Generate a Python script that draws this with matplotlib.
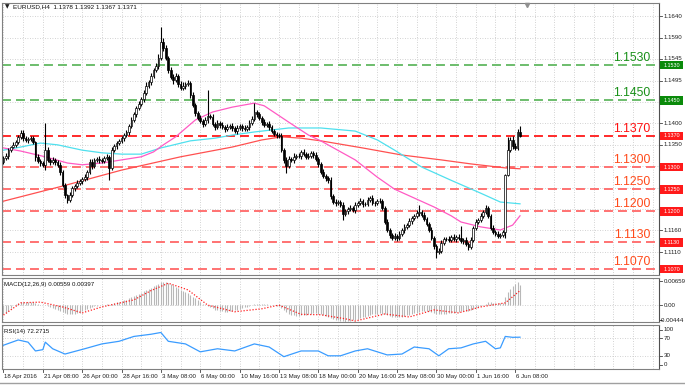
import numpy as np
import matplotlib
matplotlib.use('Agg')
import matplotlib.pyplot as plt
from matplotlib.transforms import blended_transform_factory
from matplotlib.patches import Rectangle
from matplotlib.lines import Line2D

plt.rcParams['font.family'] = ['Liberation Sans', 'DejaVu Sans']

# ---------------- data ----------------
symbol_header = 'EURUSD,H4  1.1378 1.1392 1.1367 1.1371'
macd_header = 'MACD(12,26,9) 0.00559 0.00397'
rsi_header = 'RSI(14) 72.2715'

closes = [
    1.1320, 1.1325, 1.1338, 1.1345, 1.1350, 1.1356, 1.1368, 1.1377, 1.1365, 1.1361,
    1.1363, 1.1365, 1.1356, 1.1323, 1.1314, 1.1309, 1.1305, 1.1338, 1.1316, 1.1311,
    1.1316, 1.1311, 1.1305, 1.1289, 1.1260, 1.1237, 1.1226, 1.1237, 1.1253, 1.1257,
    1.1264, 1.1268, 1.1273, 1.1277, 1.1289, 1.1311, 1.1302, 1.1316, 1.1318, 1.1316,
    1.1314, 1.1320, 1.1323, 1.1298, 1.1338, 1.1347, 1.1354, 1.1359, 1.1365, 1.1372,
    1.1379, 1.1393, 1.1406, 1.1419, 1.1433, 1.1442, 1.1453, 1.1467, 1.1483, 1.1492,
    1.1505, 1.1519, 1.1528, 1.1546, 1.1582, 1.1568, 1.1546, 1.1519, 1.1503, 1.1496,
    1.1505, 1.1487, 1.1478, 1.1483, 1.1487, 1.1489, 1.1462, 1.1440, 1.1422, 1.1411,
    1.1404, 1.1397, 1.1406, 1.1415, 1.1413, 1.1397, 1.1390, 1.1399, 1.1395, 1.1390,
    1.1386, 1.1390, 1.1393, 1.1388, 1.1381, 1.1388, 1.1393, 1.1388, 1.1386, 1.1390,
    1.1399, 1.1408, 1.1424, 1.1419, 1.1411, 1.1402, 1.1395, 1.1397, 1.1390, 1.1381,
    1.1374, 1.1372, 1.1370, 1.1338, 1.1316, 1.1302, 1.1318, 1.1316, 1.1323, 1.1325,
    1.1325, 1.1334, 1.1329, 1.1323, 1.1325, 1.1332, 1.1327, 1.1318, 1.1307, 1.1289,
    1.1280, 1.1275, 1.1270, 1.1235, 1.1221, 1.1219, 1.1221, 1.1214, 1.1194, 1.1201,
    1.1205, 1.1208, 1.1203, 1.1214, 1.1219, 1.1223, 1.1217, 1.1217, 1.1226, 1.1230,
    1.1219, 1.1219, 1.1223, 1.1223, 1.1208, 1.1176, 1.1158, 1.1147, 1.1140, 1.1145,
    1.1140, 1.1149, 1.1158, 1.1165, 1.1169, 1.1178, 1.1185, 1.1190, 1.1196, 1.1199,
    1.1192, 1.1183, 1.1172, 1.1158, 1.1140, 1.1122, 1.1109, 1.1111, 1.1129, 1.1138,
    1.1138, 1.1136, 1.1142, 1.1138, 1.1142, 1.1140, 1.1133, 1.1136, 1.1127, 1.1120,
    1.1136, 1.1163, 1.1176, 1.1181, 1.1190, 1.1199, 1.1208, 1.1190, 1.1163, 1.1154,
    1.1149, 1.1145, 1.1147, 1.1154, 1.1282, 1.1338, 1.1361, 1.1347, 1.1343, 1.1378,
    1.1371,
]

opens = [
    1.1312, 1.1320, 1.1325, 1.1338, 1.1345, 1.1350, 1.1356, 1.1368, 1.1377, 1.1365,
    1.1361, 1.1363, 1.1365, 1.1356, 1.1323, 1.1314, 1.1309, 1.1305, 1.1338, 1.1316,
    1.1311, 1.1316, 1.1311, 1.1305, 1.1289, 1.1260, 1.1237, 1.1226, 1.1237, 1.1253,
    1.1257, 1.1264, 1.1268, 1.1273, 1.1277, 1.1289, 1.1311, 1.1302, 1.1316, 1.1318,
    1.1316, 1.1314, 1.1320, 1.1323, 1.1298, 1.1338, 1.1347, 1.1354, 1.1359, 1.1365,
    1.1372, 1.1379, 1.1393, 1.1406, 1.1419, 1.1433, 1.1442, 1.1453, 1.1467, 1.1483,
    1.1492, 1.1505, 1.1519, 1.1528, 1.1546, 1.1582, 1.1568, 1.1546, 1.1519, 1.1503,
    1.1496, 1.1505, 1.1487, 1.1478, 1.1483, 1.1487, 1.1489, 1.1462, 1.1440, 1.1422,
    1.1411, 1.1404, 1.1397, 1.1406, 1.1415, 1.1413, 1.1397, 1.1390, 1.1399, 1.1395,
    1.1390, 1.1386, 1.1390, 1.1393, 1.1388, 1.1381, 1.1388, 1.1393, 1.1388, 1.1386,
    1.1390, 1.1399, 1.1408, 1.1424, 1.1419, 1.1411, 1.1402, 1.1395, 1.1397, 1.1390,
    1.1381, 1.1374, 1.1372, 1.1370, 1.1338, 1.1316, 1.1302, 1.1318, 1.1316, 1.1323,
    1.1325, 1.1325, 1.1334, 1.1329, 1.1323, 1.1325, 1.1332, 1.1327, 1.1318, 1.1307,
    1.1289, 1.1280, 1.1275, 1.1270, 1.1235, 1.1221, 1.1219, 1.1221, 1.1214, 1.1194,
    1.1201, 1.1205, 1.1208, 1.1203, 1.1214, 1.1219, 1.1223, 1.1217, 1.1217, 1.1226,
    1.1230, 1.1219, 1.1219, 1.1223, 1.1223, 1.1208, 1.1176, 1.1158, 1.1147, 1.1140,
    1.1145, 1.1140, 1.1149, 1.1158, 1.1165, 1.1169, 1.1178, 1.1185, 1.1190, 1.1196,
    1.1199, 1.1192, 1.1183, 1.1172, 1.1158, 1.1140, 1.1122, 1.1109, 1.1111, 1.1129,
    1.1138, 1.1138, 1.1136, 1.1142, 1.1138, 1.1142, 1.1140, 1.1133, 1.1136, 1.1127,
    1.1120, 1.1136, 1.1163, 1.1176, 1.1181, 1.1190, 1.1199, 1.1208, 1.1190, 1.1163,
    1.1154, 1.1149, 1.1145, 1.1147, 1.1154, 1.1282, 1.1338, 1.1361, 1.1347, 1.1343,
    1.1378,
]

# wick lengths beyond the candle body, in pips
wick_up_pips = [
    4, 6, 5, 3, 7, 5, 4, 7, 6, 5,
    4, 6, 5, 3, 6, 4, 5, 62, 6, 5,
    7, 4, 5, 6, 4, 5, 3, 6, 5, 4,
    6, 5, 4, 7, 5, 8, 6, 4, 5, 7,
    5, 4, 6, 3, 6, 5, 4, 5, 6, 4,
    5, 4, 6, 5, 4, 7, 5, 6, 8, 5,
    6, 4, 7, 9, 34, 8, 6, 5, 7, 6,
    8, 5, 6, 9, 5, 7, 4, 6, 5, 4,
    6, 5, 7, 59, 5, 6, 4, 7, 5, 6,
    4, 6, 5, 7, 4, 6, 5, 4, 6, 5,
    7, 6, 20, 5, 6, 4, 7, 5, 6, 4,
    5, 6, 4, 6, 5, 7, 6, 5, 8, 4,
    6, 5, 7, 4, 6, 5, 4, 6, 5, 4,
    6, 5, 4, 7, 5, 6, 4, 5, 6, 5,
    4, 6, 5, 7, 4, 6, 5, 4, 7, 5,
    6, 4, 5, 6, 4, 5, 6, 4, 5, 6,
    4, 6, 5, 7, 4, 6, 5, 4, 6, 15,
    5, 6, 4, 5, 6, 4, 5, 7, 6, 5,
    4, 6, 5, 6, 4, 7, 27, 5, 6, 4,
    6, 5, 7, 4, 6, 5, 6, 4, 5, 6,
    4, 6, 5, 4, 2, 30, 6, 8, 7, 8,
    14,
]
wick_dn_pips = [
    5, 4, 6, 5, 3, 6, 4, 5, 7, 4,
    6, 5, 4, 10, 5, 6, 4, 12, 5, 6,
    4, 6, 5, 7, 5, 6, 7, 4, 5, 6,
    4, 5, 6, 4, 7, 5, 6, 4, 5, 6,
    5, 6, 4, 28, 5, 4, 6, 5, 4, 6,
    5, 6, 4, 5, 6, 4, 5, 6, 4, 5,
    6, 4, 5, 6, 4, 7, 5, 6, 4, 8,
    5, 6, 4, 5, 7, 4, 6, 5, 6, 4,
    5, 7, 4, 6, 5, 4, 6, 5, 7, 4,
    6, 5, 4, 6, 5, 7, 4, 6, 5, 4,
    6, 5, 4, 6, 5, 7, 4, 5, 6, 4,
    5, 6, 4, 5, 6, 15, 5, 4, 6, 5,
    4, 6, 5, 4, 6, 5, 7, 4, 6, 5,
    4, 6, 5, 7, 4, 6, 5, 4, 13, 5,
    6, 4, 5, 6, 4, 5, 7, 4, 6, 5,
    4, 6, 5, 4, 6, 5, 4, 6, 5, 4,
    6, 5, 4, 6, 5, 4, 6, 5, 4, 6,
    5, 4, 6, 5, 4, 6, 14, 5, 6, 4,
    5, 6, 4, 5, 6, 4, 5, 6, 4, 7,
    5, 4, 6, 5, 4, 6, 5, 4, 6, 5,
    4, 6, 5, 4, 14, 2, 5, 6, 4, 5,
    4,
]

# moving averages (sampled at bars)
ma_red_bars = [0, 24, 48, 72, 93, 105, 113, 121, 129, 146, 162, 178, 190, 204, 210]
ma_red_vals = [1.1223, 1.1257, 1.1293, 1.1323, 1.1345, 1.1361, 1.1368, 1.1365, 1.1359,
               1.1343, 1.1327, 1.1316, 1.1307, 1.1298, 1.1296]
ma_cyan_bars = [0, 7, 15, 22, 32, 40, 48, 56, 64, 76, 86, 93, 102, 116, 129, 143, 152,
                159, 170, 182, 194, 202, 210]
ma_cyan_vals = [1.1338, 1.1345, 1.1354, 1.1350, 1.1338, 1.1332, 1.1329, 1.1329, 1.1343,
                1.1359, 1.1365, 1.1372, 1.1379, 1.1388, 1.1388, 1.1381, 1.1361, 1.1338,
                1.1300, 1.1270, 1.1241, 1.1221, 1.1217]
ma_pink_bars = [0, 7, 17, 26, 32, 40, 48, 56, 61, 65, 70, 78, 85, 93, 102, 106, 116, 124,
                129, 143, 152, 159, 167, 175, 182, 186, 194, 202, 207, 210]
ma_pink_vals = [1.1343, 1.1336, 1.1323, 1.1309, 1.1305, 1.1309, 1.1316, 1.1323, 1.1334,
                1.1350, 1.1368, 1.1406, 1.1424, 1.1435, 1.1444, 1.1438, 1.1401, 1.1372,
                1.1359, 1.1316, 1.1277, 1.1250, 1.1230, 1.1210, 1.1190, 1.1176, 1.1165,
                1.1158, 1.1169, 1.1190]

# MACD main histogram, in units of 1e-4
macd_main_e4 = [
    -24, -20, -14, -8,
    0, 3, 6, 9, 10, 10, 10, 9, 8, 6, 4, 2, 0, 1, -1, -3,
    -6, -9, -12, -15, -18, -21, -23, -24, -24, -23, -21, -19, -16,
    -13, -10, -6, -4, -2, -1, 0, 1,
    2, 3, 2, 4, 6, 8, 10, 12, 14, 16, 19, 22, 25, 28, 31, 34, 38, 42, 45, 48, 52, 55, 58, 62,
    63, 62, 60, 57, 54, 50, 47, 43, 40, 36, 33, 29, 24, 19, 14, 9,
    5, 1, -2, -5, -8, -11, -13, -15, -16, -17, -17, -16, -15, -13,
    -11, -9, -7, -5, -3, -1, 1, 3, 4, 5, 5, 4, 3, 2, 1, 0, -1, -2,
    -6, -12, -18, -22, -25, -27, -28, -28, -27, -26, -25, -23, -22, -21, -21, -22, -24,
    -26, -28, -30, -33, -36, -38, -40, -42, -43, -44, -43,
    -42, -40, -38, -36, -34, -32, -30, -28, -26, -24, -23, -22, -21, -22, -24, -27, -29,
    -31, -32, -32, -32, -31, -29, -27, -25, -23, -21, -19, -17, -15, -14,
    -14, -15, -17, -20, -23, -24, -24, -23, -22, -21, -20, -19, -18, -17, -16, -15, -15,
    -15, -13, -10,
    -7, -4, -1, 2, 5, 8, 8, 7, 7, 6, 6, 6,
    24, 36, 45, 53, 59, 63, 56,
]
macd_signal_bars = [0, 7, 15, 24, 32, 40, 53, 60, 67, 75, 83, 94, 105, 112, 121, 129, 139,
                    143, 155, 165, 175, 185, 194, 204, 210]
macd_signal_e4 = [-26, 7, 9, -4, -20, -4, 15, 40, 60, 42, 1, -17, -9, 1, -24, -25, -36,
                  -42, -23, -31, -12, -20, -4, 7, 40]

rsi_bars = [0, 6, 10, 13, 16, 17, 20, 25, 33, 40, 47, 53, 60, 64, 67, 74, 80, 87, 94, 102,
            108, 114, 121, 128, 132, 137, 143, 148, 156, 162, 167, 173, 177, 181, 186, 191,
            196, 200, 202, 204, 207, 210]
rsi_vals = [54, 66, 61, 41, 44, 61, 46, 34, 46, 57, 63, 74, 79, 83, 63, 57, 39, 46, 41, 57,
            50, 28, 41, 41, 30, 30, 41, 46, 32, 34, 50, 46, 30, 46, 48, 57, 63, 46, 48, 74,
            72, 72.3]

time_label_bars = [0, 16, 32, 48, 64, 80, 96, 112, 128, 144, 160, 176, 192, 208]
time_labels = ['18 Apr 2016', '21 Apr 08:00', '26 Apr 00:00', '28 Apr 16:00', '3 May 08:00',
               '6 May 00:00', '10 May 16:00', '13 May 08:00', '18 May 00:00', '20 May 16:00',
               '25 May 08:00', '30 May 00:00', '1 Jun 16:00', '6 Jun 08:00']

price_grid = [1.1640, 1.1592, 1.1544, 1.1495, 1.1447, 1.1399, 1.1350, 1.1302, 1.1253,
              1.1205, 1.1157, 1.1108]
price_grid_labels = ['1.1640', '1.1590', '1.1545', '1.1495', '', '1.1400', '1.1350', '',
                     '', '', '1.1160', '1.1110']

level_values = [1.1530, 1.1450, 1.1370, 1.1300, 1.1250, 1.1200, 1.1130, 1.1070]
level_labels = ['1.1530', '1.1450', '1.1370', '1.1300', '1.1250', '1.1200', '1.1130', '1.1070']
level_kind = ['res', 'res', 'cur', 'sup', 'sup', 'sup', 'sup', 'sup']

macd_axis_vals = [0.00659, 0.0, -0.0040]
macd_axis_labels = ['0.00659', '0.00', '-0.00444']
rsi_axis_vals = [89, 70, 30, 10]
rsi_axis_labels = ['100', '70', '30', '0']

# ---------------- styles ----------------
W, H = 685, 385
GRID = '#c4c4c4'
SPINE = '#808080'
FS = 4.4
kind_line = {'res': '#6cbd6c', 'cur': '#ff2a2a', 'sup': '#ff7272'}
kind_text = {'res': '#199019', 'cur': '#ff1010', 'sup': '#ff4a1a'}
kind_box = {'res': '#0a8a0a', 'cur': '#ff1a1a', 'sup': '#ff1a1a'}

fig = plt.figure(figsize=(W / 100, H / 100), dpi=100)
fig.patch.set_facecolor('white')


def px_axes(x0, y0, x1, y1):
    return fig.add_axes([x0 / W, 1 - y1 / H, (x1 - x0) / W, (y1 - y0) / H])


ax = px_axes(2, 3, 659, 275)
ax2 = px_axes(2, 278, 659, 322)
ax3 = px_axes(2, 325, 659, 369)

XMIN, XMAX = -0.6, 266.5
for a in (ax, ax2, ax3):
    a.set_xlim(XMIN, XMAX)
    a.set_xticks([])
    a.set_yticks([])
    a.set_facecolor('white')
    for s in a.spines.values():
        s.set_color(SPINE)
        s.set_linewidth(0.8)
    a.spines['right'].set_color('#505050')
    for b in range(0, 267, 8):
        a.axvline(b, color=GRID, lw=0.6, ls=(0, (1, 2)), zorder=0)

ax.set_ylim(1.10565, 1.16698)
ax2.set_ylim(-0.00446, 0.0074)
ax3.set_ylim(0, 100)

n = len(closes)
bars = np.arange(n)
o = np.array(opens)
c = np.array(closes)
hi = np.maximum(o, c) + np.array(wick_up_pips) * 1e-4
lo = np.minimum(o, c) - np.array(wick_dn_pips) * 1e-4

# grid in price panel
for p in price_grid:
    ax.axhline(p, color=GRID, lw=0.6, ls=(0, (1, 2)), zorder=0)

# levels
bt = blended_transform_factory(ax.transAxes, ax.transData)
for val, lab, k in zip(level_values, level_labels, level_kind):
    ax.axhline(val, color=kind_line[k], lw=1.4, dashes=(4.6, 2.6), zorder=1)
    ax.annotate(lab, xy=(0.9865, val), xycoords=bt, xytext=(0, 0.8),
                textcoords='offset points', ha='right', va='bottom',
                fontsize=8.8, color=kind_text[k], zorder=6)
    ax.add_patch(Rectangle((1.0015, val - 0.00098), 0.035, 0.00196, transform=bt,
                           facecolor=kind_box[k], edgecolor='none', clip_on=False, zorder=7))
    ax.text(1.019, val, lab, transform=bt, ha='center', va='center', fontsize=3.9,
            color='white', clip_on=False, zorder=8)

# moving averages
ax.plot(ma_red_bars, ma_red_vals, color='#ff5050', lw=0.9, zorder=2)
ax.plot(ma_cyan_bars, ma_cyan_vals, color='#4fe0ee', lw=0.9, zorder=2)
ax.plot(ma_pink_bars, ma_pink_vals, color='#ff5ac4', lw=0.9, zorder=2)

# candles
ax.vlines(bars, lo, hi, color='black', lw=0.8, zorder=3)
up = c >= o
body = np.maximum(np.abs(c - o), 0.00006)
ax.bar(bars[up], body[up], bottom=np.minimum(o, c)[up], width=0.7,
       color='white', edgecolor='black', linewidth=0.5, zorder=4)
ax.bar(bars[~up], body[~up], bottom=np.minimum(o, c)[~up], width=0.7,
       color='black', edgecolor='black', linewidth=0.5, zorder=4)

# price axis labels
for p, lab in zip(price_grid, price_grid_labels):
    if lab:
        ax.plot([1.0, 1.005], [p, p], transform=bt, color='#404040', lw=0.6, clip_on=False)
        ax.text(1.0065, p, lab, transform=bt, ha='left', va='center', fontsize=FS,
                color='#202020', clip_on=False)

# header
ax.text(0.0045, 0.985, '\u25bc', transform=ax.transAxes, fontsize=4.2, va='center',
        ha='left', color='#202020', family='DejaVu Sans')
ax.text(0.0165, 0.985, symbol_header, transform=ax.transAxes, fontsize=4.6, va='center',
        ha='left', color='#101010')
ax.plot([(527 - 2) / 657 * (XMAX - XMIN) + XMIN], [1.1666], marker='v', ms=3,
        color='#909090', clip_on=False, zorder=9)

# MACD panel
ax2.axhline(0, color=GRID, lw=0.6, ls=(0, (1, 2)), zorder=0)
macd_main = np.array(macd_main_e4) * 1e-4
ax2.vlines(bars, 0, macd_main, color='#b8b8b8', lw=0.8, zorder=2)
ax2.plot(macd_signal_bars, np.array(macd_signal_e4) * 1e-4, color='#ff2020', lw=0.9,
         ls=(0, (1, 1.4)), zorder=3)
ax2.text(0.003, 0.86, macd_header, transform=ax2.transAxes, fontsize=FS, va='center',
         ha='left', color='#101010')
bt2 = blended_transform_factory(ax2.transAxes, ax2.transData)
for v, lab in zip(macd_axis_vals, macd_axis_labels):
    ax2.plot([1.0, 1.005], [v, v], transform=bt2, color='#404040', lw=0.6, clip_on=False)
    if lab.startswith('-'):
        ax2.text(1.0385, v, lab, transform=bt2, ha='right', va='center', fontsize=FS,
                 color='#202020', clip_on=False)
    else:
        ax2.text(1.0065, v, lab, transform=bt2, ha='left', va='center', fontsize=FS,
                 color='#202020', clip_on=False)

# RSI panel
for v in (70, 30):
    ax3.axhline(v, color=GRID, lw=0.6, ls=(0, (1, 2)), zorder=0)
ax3.plot(rsi_bars, rsi_vals, color='#3a9cff', lw=0.9, zorder=2)
ax3.text(0.003, 0.86, rsi_header, transform=ax3.transAxes, fontsize=FS, va='center',
         ha='left', color='#101010')
bt3 = blended_transform_factory(ax3.transAxes, ax3.transData)
for v, lab in zip(rsi_axis_vals, rsi_axis_labels):
    ax3.plot([1.0, 1.005], [v, v], transform=bt3, color='#404040', lw=0.6, clip_on=False)
    ax3.text(1.0065, v, lab, transform=bt3, ha='left', va='center', fontsize=FS,
             color='#202020', clip_on=False)

# time axis
btx = blended_transform_factory(ax3.transData, ax3.transAxes)
for b, lab in zip(time_label_bars, time_labels):
    ax3.plot([b, b], [0, -0.07], transform=btx, color='#404040', lw=0.6, clip_on=False)
    ax3.text(b + 0.4, -0.16, lab, transform=btx, ha='left', va='center', fontsize=FS,
             color='#202020', clip_on=False)

fig.add_artist(Line2D([0, 1], [2.5 / H, 2.5 / H], color='#a0a0a0', lw=1.0))

fig.savefig('out.png', dpi=100, facecolor='white')
